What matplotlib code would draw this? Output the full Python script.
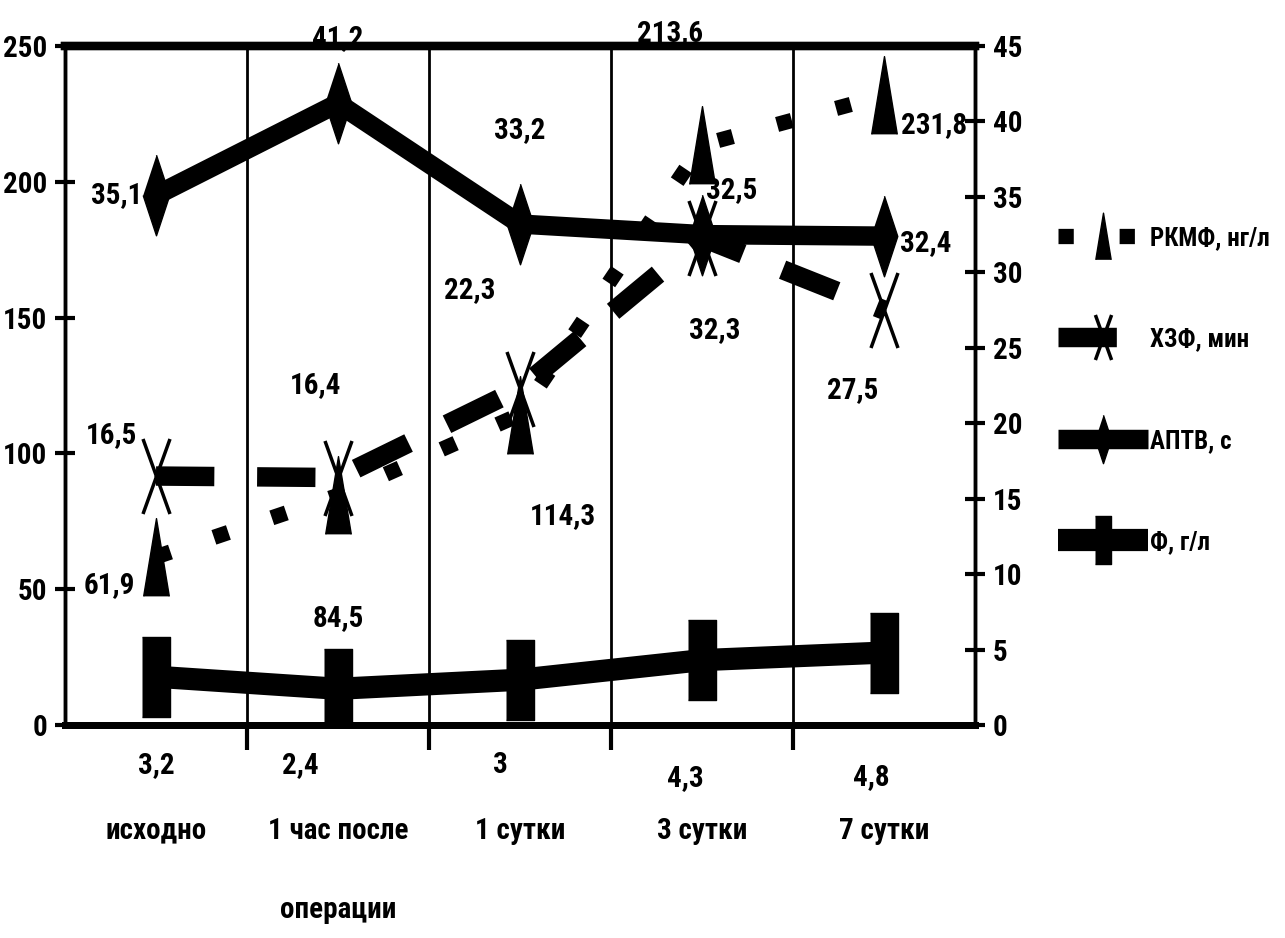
import matplotlib
matplotlib.use("Agg")
import matplotlib.pyplot as plt
from matplotlib.path import Path

plt.rcParams['font.family'] = ['Roboto Condensed', 'Liberation Sans Narrow', 'Liberation Sans', 'DejaVu Sans']
plt.rcParams['font.weight'] = 'bold'

categories = ["исходно", "1 час после\nоперации", "1 сутки", "3 сутки", "7 сутки"]
rkmf = [61.9, 84.5, 114.3, 213.6, 231.8]      # РКМФ, нг/л (left axis)
hzf = [16.5, 16.4, 22.3, 32.3, 27.5]          # ХЗФ, мин (right axis)
aptv = [35.1, 41.2, 33.2, 32.5, 32.4]         # АПТВ, с (right axis)
fib = [3.2, 2.4, 3.0, 4.3, 4.8]               # Ф, г/л (right axis)

rkmf_lbl = ["61,9", "84,5", "114,3", "213,6", "231,8"]
hzf_lbl = ["16,5", "16,4", "22,3", "32,3", "27,5"]
aptv_lbl = ["35,1", "41,2", "33,2", "32,5", "32,4"]
fib_lbl = ["3,2", "2,4", "3", "4,3", "4,8"]

left_ticks = [0, 50, 100, 150, 200, 250]
right_ticks = [0, 5, 10, 15, 20, 25, 30, 35, 40, 45]

FS = 21

fig = plt.figure(figsize=(12.85, 9.38), dpi=100)
ax = fig.add_axes([65/1285, 1-725/938, (975-65)/1285, (725-46)/938])
ax2 = ax.twinx()

x = list(range(len(categories)))

diamond = [(0, 1), (0.33, 0), (0, -1), (-0.33, 0)]
tri = [(-0.33, -1), (0, 1), (0.33, -1)]
rect = [(-0.17, -0.5), (0.17, -0.5), (0.17, 0.5), (-0.17, 0.5)]
xpath = Path([(-0.36, -1), (0.36, 1), (-0.36, 1), (0.36, -1)],
             [Path.MOVETO, Path.LINETO, Path.MOVETO, Path.LINETO])

# boundaries / grid
for b in [0.5, 1.5, 2.5, 3.5]:
    ax.axvline(b, color='black', lw=2, zorder=1)

l1, = ax.plot(x, rkmf, color='black', lw=11, dashes=[1, 3], dash_capstyle='butt',
              marker=tri, ms=56, mfc='black', mec='black', zorder=3)
l4, = ax2.plot(x, fib, color='black', lw=16, solid_capstyle='butt',
               marker=rect, ms=58, mfc='black', mec='black', zorder=3)
l3, = ax2.plot(x, aptv, color='black', lw=14, solid_capstyle='butt',
               marker=diamond, ms=58, mfc='black', mec='black', zorder=3)
l2, = ax2.plot(x, hzf, color='black', lw=14, dashes=[3, 2.2], dash_capstyle='butt',
               marker=xpath, ms=54, mfc='none', mec='black', mew=2.5, zorder=3)

ax.set_xlim(-0.5, 4.5)
ax.set_ylim(0, 250)
ax2.set_ylim(0, 45)
ax.set_yticks(left_ticks)
ax2.set_yticks(right_ticks)
ax.set_xticks(x)
ax.set_xticklabels(categories, fontsize=FS, linespacing=3.35)
ax.set_xticks([0.5, 1.5, 2.5, 3.5], minor=True)
ax.tick_params(axis='x', which='major', length=0, pad=66)
ax.tick_params(axis='x', which='minor', length=18, width=3, direction='out')
ax.tick_params(axis='y', labelsize=FS, length=14, width=3, direction='inout', pad=6)
ax2.tick_params(axis='y', labelsize=FS, length=14, width=3, direction='inout', pad=6)

for a in (ax, ax2):
    a.spines['top'].set_linewidth(6)
    a.spines['bottom'].set_linewidth(5)
    a.spines['left'].set_linewidth(2.5)
    a.spines['right'].set_linewidth(2.5)
    a.patch.set_visible(False)

def lab(a, xs, ys, texts, offs):
    for xi, yi, t, (dx, dy) in zip(xs, ys, texts, offs):
        a.annotate(t, (xi, yi), xytext=(dx, dy), textcoords='offset pixels',
                   ha='center', va='center', fontsize=FS, zorder=5, annotation_clip=False)

lab(ax2, x, aptv, aptv_lbl, [(-39, 0), (0, 65), (0, 94), (30, 45), (42, -7)])
lab(ax, x, rkmf, rkmf_lbl, [(-47, -28), (0, -123), (43, -102), (-32, 112), (50, -30)])
lab(ax2, x, hzf, hzf_lbl, [(-45, 41), (-23, 92), (-50, 98), (13, -92), (-31, -80)])
lab(ax2, x, fib, fib_lbl, [(0, -88), (-38, -76), (-20, -85), (-17, -118), (-13, -125)])

handles = [l1, l2, l3, l4]
labels = ["РКМФ, нг/л", "ХЗФ, мин", "АПТВ, с", "Ф, г/л"]
fig.legend(handles, labels, loc='center left', bbox_to_anchor=(1058/1285, 1-390/938),
           frameon=False, fontsize=18, markerscale=0.6, handlelength=3.6,
           handletextpad=0.1, labelspacing=3.1, borderaxespad=0, borderpad=0)

fig.savefig("out.png", dpi=100)
